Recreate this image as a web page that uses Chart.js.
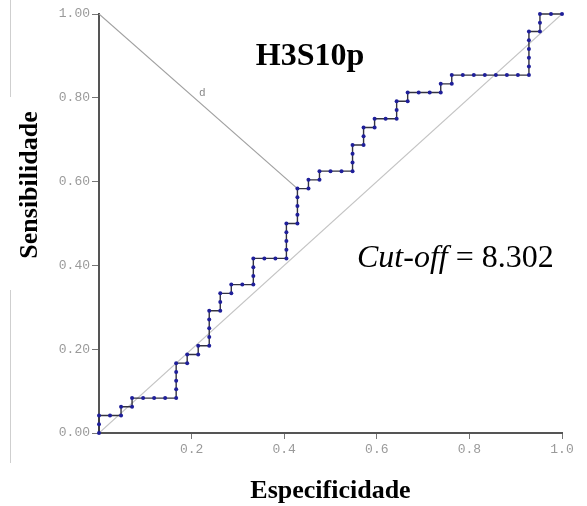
<!DOCTYPE html>
<html>
<head>
<meta charset="utf-8">
<script src="https://cdn.jsdelivr.net/npm/chart.js@4/dist/chart.umd.min.js"></script>
<style>
  body { margin: 0; background: #fff; }
  #roc { display: block; }
</style>
</head>
<body>
<canvas id="roc" width="587" height="506"></canvas>
<script>
// ROC curve H3S10p - counts of false positives (of 42) and true positives (of 48)
const totalNeg = 42;
const totalPos = 48;

const fpCount = [0, 0, 0, 1, 2, 2, 3, 3, 4, 5, 6, 7, 7, 7, 7, 7, 8, 8, 9, 9, 10,
    10, 10, 10, 10, 11, 11, 11, 12, 12, 13, 14, 14, 14, 14, 15, 16, 17,
    17, 17, 17, 17, 18, 18, 18, 18, 18, 19, 19, 20, 20, 21, 22, 23,
    23, 23, 23, 24, 24, 24, 25, 25, 26, 27, 27, 27, 28, 28, 29, 30, 31,
    31, 32, 32, 33, 34, 35, 36, 37, 38, 39, 39, 39, 39, 39, 39, 40, 40, 40, 41, 42];
const tpCount = [0, 1, 2, 2, 2, 3, 3, 4, 4, 4, 4, 4, 5, 6, 7, 8, 8, 9, 9, 10, 10,
    11, 12, 13, 14, 14, 15, 16, 16, 17, 17, 17, 18, 19, 20, 20, 20, 20,
    21, 22, 23, 24, 24, 25, 26, 27, 28, 28, 29, 29, 30, 30, 30, 30,
    31, 32, 33, 33, 34, 35, 35, 36, 36, 36, 37, 38, 38, 39, 39, 39, 39,
    40, 40, 41, 41, 41, 41, 41, 41, 41, 41, 42, 43, 44, 45, 46, 46, 47, 48, 48, 48];

// point chosen as cut-off (fp 18, tp 28)
const cutFp = 18;
const cutTp = 28;
const cutLabel = '8.302';

const xTicks = [0.2, 0.4, 0.6, 0.8, 1.0];
const yTicks = [0, 0.2, 0.4, 0.6, 0.8, 1.0];

const rocPoints = fpCount.map((fp, i) => ({ x: fp / totalNeg, y: tpCount[i] / totalPos }));

const textPlugin = {
    id: 'texts',
    beforeDraw(chart) {
        const ctx = chart.ctx;
        // faint frame lines left of the figure
        ctx.save();
        ctx.strokeStyle = '#cfcfcf';
        ctx.lineWidth = 1;
        ctx.beginPath();
        ctx.moveTo(10.5, 0); ctx.lineTo(10.5, 97);
        ctx.moveTo(10.5, 290); ctx.lineTo(10.5, 463);
        ctx.stroke();
        ctx.restore();
    },
    afterDraw(chart) {
        const ctx = chart.ctx;
        const xs = chart.scales.x, ys = chart.scales.y;
        ctx.save();
        ctx.fillStyle = '#000';
        ctx.textAlign = 'center';
        ctx.textBaseline = 'alphabetic';

        ctx.font = 'bold 32px "Liberation Serif"';
        ctx.fillText('H3S10p', 310, 65);

        ctx.font = 'bold 26px "Liberation Serif"';
        ctx.fillText('Especificidade', (xs.left + xs.right) / 2, 498);

        ctx.save();
        ctx.translate(37, 185);
        ctx.rotate(-Math.PI / 2);
        ctx.fillText('Sensibilidade', 0, 0);
        ctx.restore();

        ctx.textAlign = 'left';
        ctx.font = 'italic 32px "Liberation Serif"';
        const part1 = 'Cut-off';
        ctx.fillText(part1, 357, 267);
        const w1 = ctx.measureText(part1).width;
        ctx.font = '32px "Liberation Serif"';
        ctx.fillText(' = ' + cutLabel, 357 + w1, 267);

        // "d" label next to the distance line
        const mx = xs.getPixelForValue(cutFp / totalNeg / 2);
        const my = ys.getPixelForValue((1 + cutTp / totalPos) / 2);
        ctx.font = '11px "Liberation Mono"';
        ctx.fillStyle = '#888';
        ctx.textAlign = 'center';
        ctx.textBaseline = 'middle';
        ctx.fillText('d', mx + 4, my - 8);
        ctx.restore();
    }
};

new Chart(document.getElementById('roc'), {
    type: 'line',
    data: {
        datasets: [
            {
                label: 'H3S10p',
                data: rocPoints,
                borderColor: '#333340',
                borderWidth: 1.4,
                pointRadius: 2,
                pointBackgroundColor: '#1f1f9a',
                pointBorderColor: '#1f1f9a',
                pointBorderWidth: 0,
                tension: 0,
                clip: 4
            },
            {
                label: 'd',
                data: [{ x: 0, y: 1 }, { x: cutFp / totalNeg, y: cutTp / totalPos }],
                borderColor: '#a0a0a0',
                borderWidth: 1.2,
                pointRadius: 0
            },
            {
                label: 'reference',
                data: [{ x: 0, y: 0 }, { x: 1, y: 1 }],
                borderColor: '#c4c4c4',
                borderWidth: 1.2,
                pointRadius: 0
            }
        ]
    },
    options: {
        responsive: false,
        animation: false,
        devicePixelRatio: 1,
        layout: { padding: { left: 0, top: 14, right: 25, bottom: 0 } },
        plugins: {
            legend: { display: false },
            tooltip: { enabled: false }
        },
        scales: {
            x: {
                type: 'linear',
                min: 0,
                max: 1,
                afterFit: (scale) => { scale.height = 73; },
                afterBuildTicks: (scale) => { scale.ticks = xTicks.map(v => ({ value: v })); },
                ticks: {
                    callback: (v) => v.toFixed(1),
                    color: '#9a9a9a',
                    font: { family: 'Liberation Mono', size: 13 },
                    padding: 3,
                    maxRotation: 0
                },
                grid: { drawOnChartArea: false, tickLength: 6, color: '#777', tickWidth: 1 },
                border: { display: true, color: '#555', width: 2 }
            },
            y: {
                type: 'linear',
                min: 0,
                max: 1,
                afterFit: (scale) => { scale.width = 99; },
                afterBuildTicks: (scale) => { scale.ticks = yTicks.map(v => ({ value: v })); },
                ticks: {
                    callback: (v) => v.toFixed(2),
                    color: '#9a9a9a',
                    font: { family: 'Liberation Mono', size: 13 },
                    padding: 2
                },
                grid: { drawOnChartArea: false, tickLength: 7, color: '#777', tickWidth: 1 },
                border: { display: true, color: '#555', width: 2 }
            }
        }
    },
    plugins: [textPlugin]
});
</script>
</body>
</html>
